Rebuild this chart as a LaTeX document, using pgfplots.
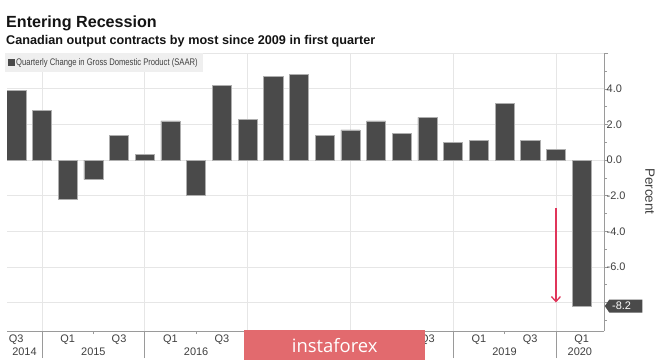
\documentclass[border=0pt]{standalone}
\usepackage{fontspec}
\setmainfont{Liberation Sans}
\newfontfamily\condfont[FakeStretch=0.8]{Liberation Sans}
\newfontfamily\wmfont{Open Sans}
\usepackage{pgfplots}
\usepackage{pgfplotstable}
\pgfplotsset{compat=1.18}
\usetikzlibrary{arrows.meta}
\definecolor{barc}{HTML}{4A4A4A}
\definecolor{gridc}{HTML}{E6E6E6}
\definecolor{axc}{HTML}{9A9A9A}
\definecolor{tickc}{HTML}{404040}
\definecolor{wmred}{HTML}{E26A6E}
\definecolor{arrred}{HTML}{E0355A}
\definecolor{legbg}{HTML}{EFEFEF}

\pgfplotstableread{
idx val
0 3.9
1 2.8
2 -2.2
3 -1.1
4 1.4
5 0.3
6 2.2
7 -2.0
8 4.2
9 2.3
10 4.7
11 4.8
12 1.4
13 1.7
14 2.2
15 1.5
16 2.4
17 1.0
18 1.1
19 3.2
20 1.1
21 0.6
22 -8.2
}\gdp

\begin{document}
\begin{tikzpicture}
\path[use as bounding box, fill=white] (0,0) rectangle (665bp,-362bp);
\node[anchor=base west, inner sep=0pt, text=black!92] at (6bp,-27bp) {\fontsize{16.2}{18}\selectfont\bfseries Entering Recession};
\node[anchor=base west, inner sep=0pt, text=black!92] at (6bp,-44bp) {\fontsize{12.7}{14}\selectfont\bfseries Canadian output contracts by most since 2009 in first quarter};

% background axis: vertical grid, year separators, year labels
\begin{axis}[
  at={(7bp,-331bp)}, anchor=south west, scale only axis,
  width=597bp, height=278.3bp,
  xmin=-0.36, xmax=22.87, ymin=-9.6, ymax=6.03,
  axis line style={draw=none},
  xtick={1,5,9,13,17,21}, xticklabels={},
  minor xtick={3,7,11,15,19},
  xmajorgrids, major grid style={gridc, line width=0.7bp},
  tick align=outside, xtick pos=bottom, ytick=\empty,
  major tick length=27bp, minor tick length=3bp,
  tick style={axc, line width=0.6bp},
  extra x ticks={0.32,3,7,11,15,19,21.93},
  extra x tick labels={2014,2015,2016,2017,2018,2019,2020},
  extra x tick style={grid=none, tick style={draw=none}},
  xticklabel style={font=\fontsize{11}{13}\selectfont, text=tickc, anchor=north, inner sep=0pt, yshift=10.5bp},
]
\end{axis}

\begin{axis}[
  at={(7bp,-331bp)}, anchor=south west, scale only axis,
  width=597bp, height=278.3bp,
  xmin=-0.36, xmax=22.87, ymin=-9.6, ymax=6.03,
  ybar, bar width=0.74,
  axis x line*=bottom, axis y line*=right,
  axis line style={axc, line width=0.8bp, -},
  xtick={0,2,...,22},
  xticklabels={Q3,Q1,Q3,Q1,Q3,Q1,Q3,Q1,Q3,Q1,Q3,Q1},
  every major x tick/.append style={draw=none},
  ytick={-6,-4,...,4}, extra y ticks={-8,6}, extra y tick labels={,},
  extra y tick style={grid=major},
  minor ytick={-9,-7,...,5},
  ymajorgrids, major grid style={gridc, line width=0.7bp},
  tick align=outside, major tick length=4bp, minor tick length=2.5bp,
  tick style={axc, line width=0.6bp},
  xticklabel style={font=\fontsize{11}{13}\selectfont, text=tickc, anchor=north, inner sep=0pt},
  yticklabel style={font=\fontsize{11}{13}\selectfont, text=tickc, anchor=west, inner sep=0pt, xshift=-1.5bp},
  /pgf/number format/fixed, /pgf/number format/fixed zerofill,
  /pgf/number format/precision=1, /pgf/number format/assume math mode=true,
  legend style={at={(rel axis cs:0,1)}, anchor=north west, xshift=-2bp,
    fill=legbg, draw=none, inner xsep=3bp, inner ysep=3.5bp,
    font=\condfont\fontsize{9.6}{11}\selectfont, text=tickc},
  legend cell align=left,
  legend image code/.code={\fill[barc] (0bp,-3bp) rectangle (5.5bp,3bp);},
]
\addplot[fill=barc, draw=barc!45!white, line width=0.5bp] table[x=idx,y=val]{\gdp};
\addlegendentry{Quarterly Change in Gross Domestic Product (SAAR)}
\draw[arrred, line width=1.3bp, -{Straight Barb[length=5bp, width=9bp]}] (axis cs:21,-2.7) -- (axis cs:21,-8.0);
\coordinate (lab) at (axis cs:22.87,-8.2);
\end{axis}

\fill[barc] (lab) ++(0.8bp,0) -- ++(4.5bp,6.5bp) -- ++(33bp,0) -- ++(0,-13bp) -- ++(-33bp,0) -- cycle;
\node[anchor=west, text=white, inner sep=0pt, font=\fontsize{11}{13}\selectfont] at ([xshift=8bp]lab) {-8.2};
\node[rotate=-90, text=tickc, inner sep=0pt, font=\fontsize{13.5}{15}\selectfont] at (650bp,-191.5bp) {Percent};
\node[fill=wmred, text=white, minimum width=181bp, minimum height=30bp, inner sep=0pt, anchor=north west, font=\wmfont\fontsize{18.5}{20}\selectfont] at (244bp,-330bp) {instaforex};
\end{tikzpicture}
\end{document}
